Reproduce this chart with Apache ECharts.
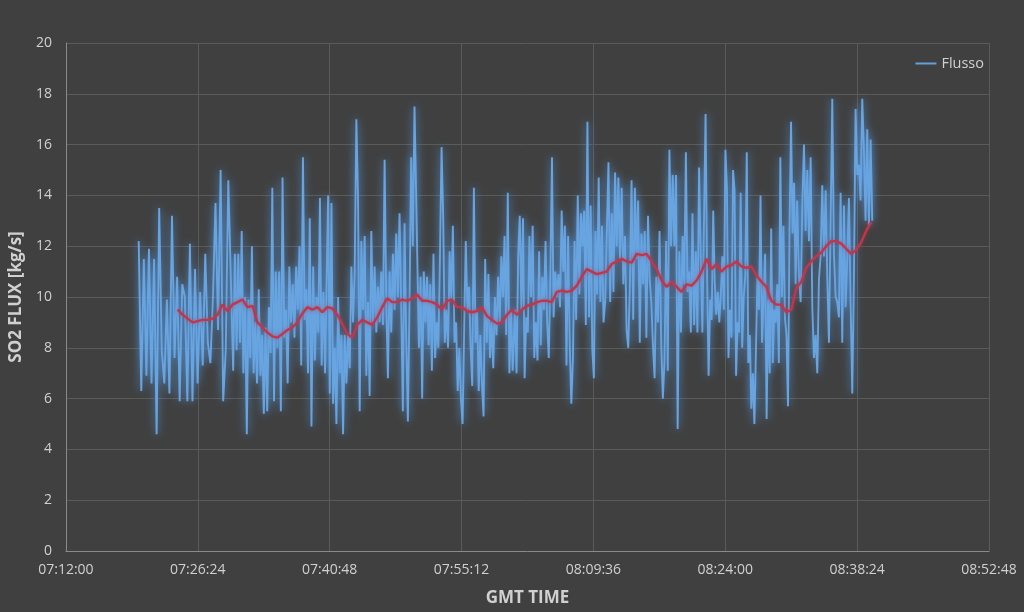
<!DOCTYPE html>
<html>
<head>
<meta charset="utf-8">
<script src="https://cdn.jsdelivr.net/npm/echarts@6/dist/echarts.min.js"></script>
<style>
html,body{margin:0;padding:0;background:#404040;}
#chart{width:1024px;height:612px;}
</style>
</head>
<body>
<div id="chart"></div>
<script>
// Axis settings (GMT time, seconds of day)
const xMin = '07:12:00';
const xMax = '08:52:48';
const xStepSec = 864;            // 14:24
const yTicks = [0, 2, 4, 6, 8, 10, 12, 14, 16, 18, 20];

// Blue series "Flusso": segments with start/end time, values spaced evenly inside
const segTimes = [
  ['07:19:57', '07:29:44'],
  ['07:30:16', '07:40:18'],
  ['07:40:38', '07:50:04'],
  ['07:50:33', '08:00:47'],
  ['08:01:02', '08:10:53'],
  ['08:11:15', '08:21:30'],
  ['08:21:51', '08:31:51'],
  ['08:32:03', '08:40:03']
];
const flux1 = [12.2, 6.3, 11.5, 6.9, 11.9, 6.6, 11.5, 4.6, 13.5, 7.9, 6.6, 9.9, 6.2, 13.2, 7.6, 10.8, 5.9, 10.5, 10.0, 5.9, 12.1, 5.9, 11.1, 6.6, 10.2, 7.3, 11.7, 8.2, 7.4, 10.0, 13.7, 8.7, 15.0, 5.9, 7.9, 14.6];
const flux2 = [7.1, 11.7, 7.9, 11.7, 8.2, 12.6, 7.0, 10.0, 4.6, 9.9, 7.6, 12.0, 7.0, 9.0, 6.6, 10.3, 6.9, 8.5, 5.4, 8.8, 5.5, 9.6, 7.8, 14.3, 5.9, 11.0, 8.0, 11.0, 5.5, 14.7, 8.4, 9.5, 6.6, 11.2, 9.0, 10.5, 8.4, 11.2, 9.5, 12.0, 7.3, 15.5, 9.1, 10.3, 7.0, 13.1, 4.9, 11.2, 7.5, 10.0, 8.6, 13.9, 7.3, 10.2, 7.0];
const flux3 = [14.0, 6.2, 13.7, 5.8, 8.0, 5.0, 10.0, 7.0, 8.5, 4.6, 8.5, 6.6, 8.5, 7.2, 11.2, 9.0, 11.0, 17.0, 13.9, 5.5, 12.2, 9.5, 12.4, 6.9, 9.8, 6.1, 12.6, 9.0, 11.2, 8.6, 10.4, 9.0, 11.0, 8.9, 15.4, 9.8, 6.8, 11.0, 8.6, 11.7, 9.5, 12.5, 10.0, 13.3, 9.6, 5.5, 12.9, 8.4, 5.1, 9.8, 15.5, 12.0, 17.5];
const flux4 = [8.0, 10.8, 6.0, 11.0, 9.0, 10.8, 8.1, 10.5, 7.1, 11.7, 7.6, 9.0, 8.0, 11.5, 15.9, 13.2, 8.2, 9.5, 8.0, 11.8, 9.9, 12.8, 8.2, 9.0, 6.3, 8.0, 6.0, 5.0, 8.7, 12.2, 9.5, 10.4, 8.0, 6.5, 14.3, 8.2, 9.5, 6.3, 8.5, 6.6, 5.3, 11.5, 8.2, 10.9, 7.6, 9.0, 7.2, 10.0, 8.5, 10.8, 9.0, 11.6, 10.0, 12.4, 8.5, 14.1, 7.0, 9.5, 7.1];
const flux5 = [9.5, 7.0, 11.6, 13.2, 9.5, 13.1, 6.8, 9.2, 8.6, 12.4, 10.0, 12.8, 7.6, 9.0, 7.5, 11.8, 8.1, 10.8, 9.5, 12.2, 9.0, 7.6, 10.9, 15.5, 9.2, 11.0, 10.0, 10.9, 9.6, 13.4, 11.0, 12.8, 7.3, 12.4, 8.2, 5.8, 7.6, 12.2, 9.1, 14.0, 10.1, 13.3, 12.0, 13.4, 8.9, 16.9, 9.2, 13.6, 8.0, 6.8, 12.6, 10.1, 14.7, 9.8, 12.8, 9.0, 9.8];
const flux6 = [15.3, 9.8, 13.3, 10.2, 14.9, 12.0, 14.7, 11.5, 14.3, 10.5, 12.4, 8.7, 8.0, 10.5, 14.6, 9.1, 14.3, 11.5, 13.8, 8.2, 12.5, 10.5, 12.6, 8.4, 13.2, 10.7, 9.8, 8.1, 6.8, 10.8, 9.0, 12.6, 8.2, 6.0, 7.5, 12.2, 7.1, 15.8, 12.0, 14.8, 12.0, 14.8, 4.8, 11.8, 8.6, 12.4, 10.5, 15.7, 10.2, 11.0, 8.6, 13.3, 8.9, 11.8, 8.6, 15.1, 11.7, 8.6];
const flux7 = [17.2, 10.8, 6.9, 9.9, 9.1, 13.4, 10.6, 9.3, 10.2, 9.0, 10.1, 11.6, 9.5, 15.8, 14.3, 7.6, 9.5, 8.4, 15.0, 14.2, 6.9, 9.0, 8.6, 14.1, 8.0, 10.0, 10.8, 15.7, 7.4, 8.5, 5.6, 7.0, 5.0, 7.9, 10.8, 9.5, 14.0, 8.2, 10.0, 11.7, 5.2, 9.9, 7.0, 12.7, 7.4, 9.5, 9.0, 10.5, 7.4, 15.5, 10.0, 12.8, 9.2, 8.5, 5.7, 12.6, 16.9, 12.5, 14.5, 10.5, 13.8];
const flux8 = [10.8, 9.8, 13.6, 16.0, 12.6, 15.0, 12.2, 15.5, 9.6, 7.6, 8.5, 7.0, 10.7, 11.6, 14.4, 11.6, 14.2, 10.8, 8.2, 12.9, 17.8, 11.7, 10.0, 9.8, 9.2, 14.1, 8.2, 13.6, 9.6, 11.5, 13.9, 9.8, 6.2, 10.8, 17.4, 14.8, 15.2, 13.8, 17.8, 15.8, 13.0, 16.6, 12.8, 16.2, 13.0];
const fluxSegs = [flux1, flux2, flux3, flux4, flux5, flux6, flux7, flux8];

// Red moving-average line, evenly spaced between these times
const avgTimes = ['07:24:12', '08:39:56'];
const avgValues = [9.5, 9.3, 9.15, 9.0, 9.05, 9.1, 9.1, 9.15, 9.3, 9.7, 9.45, 9.7, 9.8, 9.9, 9.6, 9.65, 9.0, 8.8, 8.6, 8.45,
  8.4, 8.55, 8.7, 8.8, 9.0, 9.35, 9.6, 9.5, 9.6, 9.4, 9.6, 9.55, 9.3, 8.95, 8.55, 8.4, 8.9, 9.1, 9.0, 8.9,
  9.2, 9.6, 9.95, 9.8, 9.8, 9.9, 9.85, 9.95, 10.1, 9.85, 9.85, 9.8, 9.7, 9.5, 9.85, 9.9, 9.6, 9.6, 9.45, 9.4,
  9.45, 9.6, 9.25, 9.1, 8.95, 9.0, 9.3, 9.5, 9.3, 9.5, 9.65, 9.7, 9.8, 9.85, 9.85, 9.8, 10.2, 10.25, 10.2, 10.25,
  10.45, 10.8, 11.1, 11.0, 10.9, 10.95, 11.0, 11.3, 11.4, 11.5, 11.4, 11.35, 11.7, 11.65, 11.7, 11.4, 11.1, 10.65, 10.4, 10.6,
  10.4, 10.2, 10.5, 10.45, 10.65, 11.0, 11.5, 11.1, 11.3, 11.0, 11.2, 11.25, 11.4, 11.2, 11.15, 11.2, 10.85, 10.6, 10.4, 9.85,
  9.7, 9.7, 9.4, 9.5, 10.35, 10.6, 11.15, 11.4, 11.6, 11.75, 12.0, 12.2, 12.2, 12.1, 11.9, 11.7, 11.85, 12.15, 12.6, 12.95];

function toSec(s) { const p = s.split(':').map(Number); return p[0] * 3600 + p[1] * 60 + p[2]; }
function fmt(sec) {
  sec = Math.round(sec);
  const h = Math.floor(sec / 3600), m = Math.floor((sec % 3600) / 60), s = sec % 60;
  const z = n => (n < 10 ? '0' : '') + n;
  return z(h) + ':' + z(m) + ':' + z(s);
}
function spread(t0, t1, vals) {
  const a = toSec(t0), b = toSec(t1), n = vals.length;
  return vals.map((v, i) => [a + (n > 1 ? (b - a) * i / (n - 1) : 0), v]);
}

const fluxData = [];
fluxSegs.forEach((vals, i) => { spread(segTimes[i][0], segTimes[i][1], vals).forEach(p => fluxData.push(p)); });
const avgData = spread(avgTimes[0], avgTimes[1], avgValues);

const labelColor = '#d0d0d0';
const fontFam = '"Open Sans", "Liberation Sans", sans-serif';

const chart = echarts.init(document.getElementById('chart'), null, { renderer: 'canvas' });
chart.setOption({
  backgroundColor: '#404040',
  animation: false,
  grid: { left: 64, right: 35, top: 43, bottom: 61, containLabel: false },
  legend: {
    data: ['Flusso'],
    right: 35, top: 51,
    icon: 'rect', itemWidth: 21, itemHeight: 2, itemGap: 4,
    textStyle: { color: labelColor, fontSize: 14.5, fontFamily: fontFam }
  },
  xAxis: {
    type: 'value',
    min: toSec(xMin), max: toSec(xMax), interval: xStepSec,
    name: 'GMT TIME', nameLocation: 'middle', nameGap: 39,
    nameTextStyle: { color: labelColor, fontSize: 17, fontWeight: 'bold', fontFamily: fontFam },
    axisLine: { show: true, lineStyle: { color: '#8a8a8a', width: 1 } },
    axisTick: { show: false },
    axisLabel: { color: labelColor, fontSize: 14, fontFamily: fontFam, margin: 12, formatter: v => fmt(v) },
    splitLine: { show: true, lineStyle: { color: '#5a5a5a', width: 1 } }
  },
  yAxis: {
    type: 'value',
    min: yTicks[0], max: yTicks[yTicks.length - 1], interval: yTicks[1] - yTicks[0],
    name: 'SO2 FLUX [kg/s]', nameLocation: 'middle', nameGap: 34,
    nameTextStyle: { color: labelColor, fontSize: 17, fontWeight: 'bold', fontFamily: fontFam },
    axisLine: { show: true, lineStyle: { color: '#8a8a8a', width: 1 } },
    axisTick: { show: false },
    axisLabel: { color: labelColor, fontSize: 14, fontFamily: fontFam, margin: 14 },
    splitLine: { show: true, lineStyle: { color: '#5a5a5a', width: 1 } }
  },
  series: [
    {
      name: 'Flusso', type: 'line', data: fluxData,
      showSymbol: false, symbol: 'none',
      color: '#64a0dc',
      lineStyle: { color: '#68a4e0', width: 1.9, shadowBlur: 9, shadowColor: 'rgba(90,160,235,0.95)' },
      z: 2
    },
    {
      name: 'MediaMobile', type: 'line', data: avgData,
      showSymbol: false, symbol: 'none',
      lineStyle: { color: '#c0364c', width: 2.4, shadowBlur: 4, shadowColor: 'rgba(190,50,70,0.6)' },
      z: 3
    }
  ]
});
</script>
</body>
</html>
